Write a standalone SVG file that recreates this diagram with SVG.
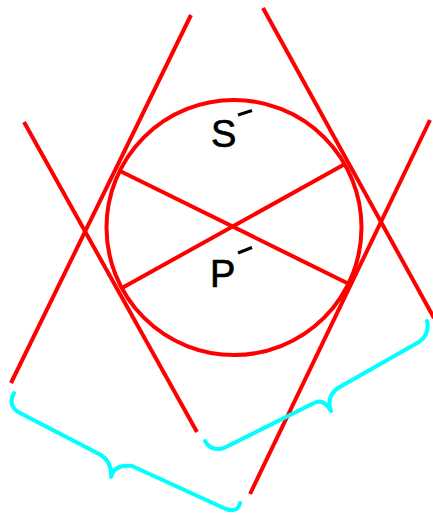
<svg xmlns="http://www.w3.org/2000/svg" width="433" height="515" viewBox="0 0 433 515">
<style>
.r{stroke:#ff0000;stroke-width:4;fill:none}
.c{stroke:#00ffff;stroke-width:4;fill:none;stroke-linecap:round;stroke-linejoin:round}
.t{font-family:"Liberation Sans",Arial,sans-serif;font-size:38px;fill:#000;stroke:#000;stroke-width:0.7}
.m{stroke:#000;stroke-width:3}
</style>
<rect width="433" height="515" fill="#fff"/>
<g id="connectors">
<line class="r" x1="191" y1="15" x2="11" y2="383"/>
<line class="r" x1="24" y1="122" x2="197" y2="432"/>
<line class="r" x1="263" y1="8" x2="434" y2="318"/>
<line class="r" x1="430" y1="120" x2="250" y2="494"/>
<line class="r" x1="120" y1="171" x2="347" y2="283"/>
<line class="r" x1="122" y1="288" x2="345" y2="164"/>
<path class="c" d="M14,393 Q7,406 20,413 L101,455 Q112,462 111,477 Q114,464 132,466 L226,509 Q238,513 240,503"/>
<path class="c" d="M205,441 Q211,452 224,448 L314,403 Q324,398 331,411 Q326,396 338,388 L419,342 Q430,334 427,321"/>
</g>
<g id="circle">
<circle class="r" cx="234" cy="227.5" r="127.5"/>
</g>
<g id="S">
<text class="t" x="211" y="147">S</text>
<line class="m" x1="238" y1="115" x2="252" y2="110.5"/>
</g>
<g id="P">
<text class="t" x="210" y="287">P</text>
<line class="m" x1="238" y1="253" x2="252" y2="247.5"/>
</g>
</svg>
